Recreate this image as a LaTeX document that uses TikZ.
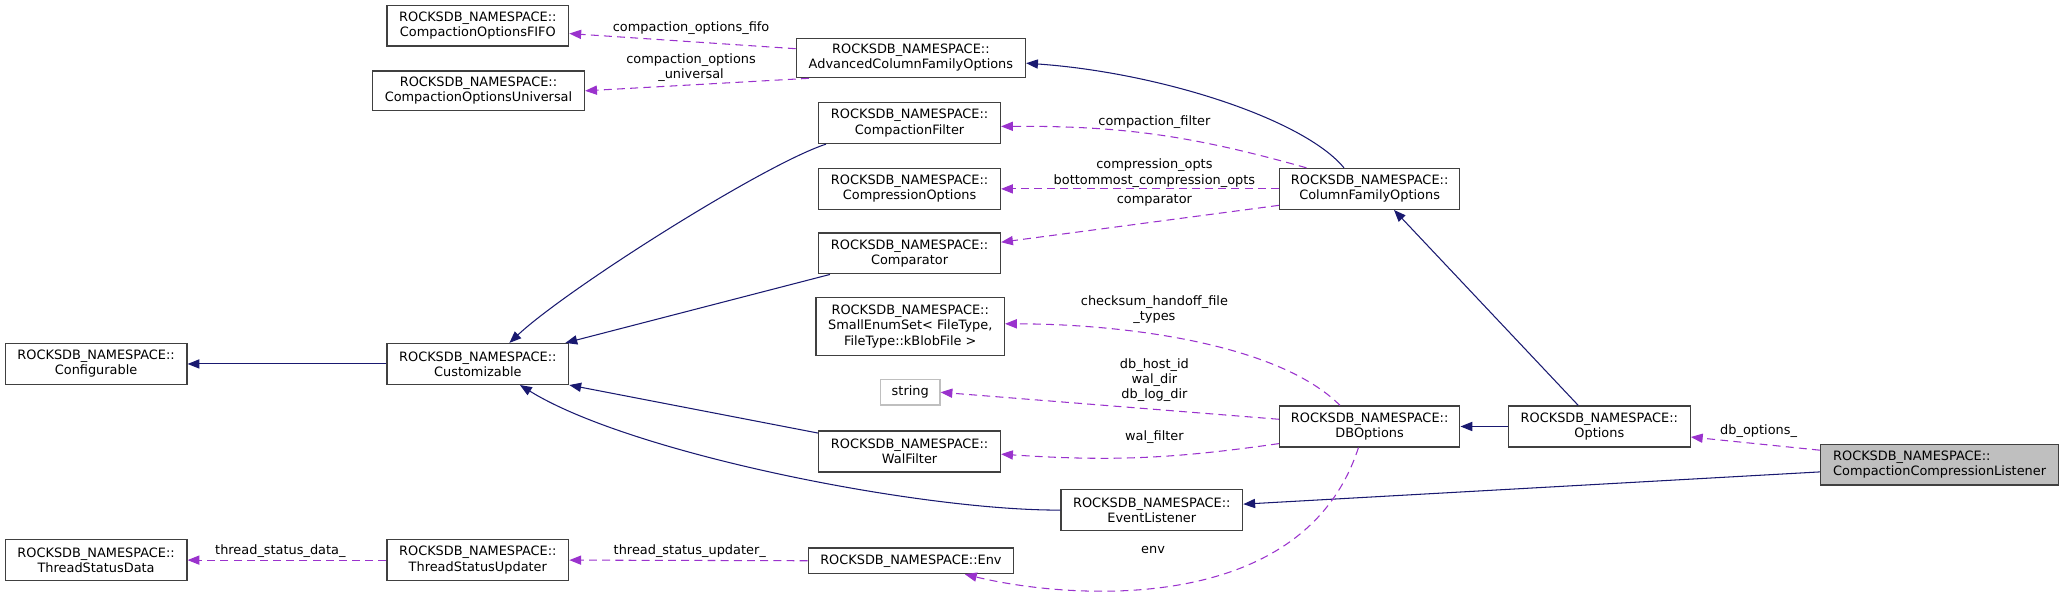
\documentclass[tikz,border=0pt]{standalone}
\usepackage{fontspec}
\setmainfont{DejaVu Sans}
\usetikzlibrary{arrows.meta}

\definecolor{heritage}{HTML}{191970}
\definecolor{membre}{HTML}{9A32CD}
\definecolor{bord}{HTML}{404040}

\begin{document}
\begin{tikzpicture}[
    x=1pt, y=-1pt,
    cls/.style={draw=bord, line width=1pt, fill=white, align=center, inner sep=0pt,
      minimum width=138pt, minimum height=31pt, font=\fontsize{9.8}{11.5}\selectfont},
    lbl/.style={align=center, inner sep=0pt, font=\fontsize{9.8}{11.5}\selectfont},
    inh/.style={draw=heritage, line width=0.8pt, -{Triangle[length=9pt,width=7pt]}},
    usage/.style={draw=membre, line width=0.8pt, dash pattern=on 6pt off 4pt,
      -{Triangle[length=9pt,width=7pt]}},
  ]
  \useasboundingbox (0,0) rectangle (1568,450);

  % classes
  \node[cls] (fifo) at (363,19.5) {ROCKSDB\_NAMESPACE::\\CompactionOptionsFIFO};
  \node[cls, minimum width=161pt, minimum height=30pt] (univ) at (363.5,69) {ROCKSDB\_NAMESPACE::\\CompactionOptionsUniversal};
  \node[cls, minimum width=174pt, minimum height=30pt] (advcfo) at (692,44) {ROCKSDB\_NAMESPACE::\\AdvancedColumnFamilyOptions};
  \node[cls] (cfilter) at (691,93.5) {ROCKSDB\_NAMESPACE::\\CompactionFilter};
  \node[cls] (cmpopts) at (691,143.5) {ROCKSDB\_NAMESPACE::\\CompressionOptions};
  \node[cls] (cmptr) at (691,192.5) {ROCKSDB\_NAMESPACE::\\Comparator};
  \node[cls, minimum width=137pt] (cfo) at (1040.5,143.5) {ROCKSDB\_NAMESPACE::\\ColumnFamilyOptions};
  \node[cls] (conf) at (73,276.5) {ROCKSDB\_NAMESPACE::\\Configurable};
  \node[cls] (cust) at (363,276.5) {ROCKSDB\_NAMESPACE::\\Customizable};
  \node[cls, minimum width=143pt, minimum height=44pt] (enumset) at (691.5,248) {ROCKSDB\_NAMESPACE::\\SmallEnumSet\textless{} FileType,\\FileType::kBlobFile \textgreater{}};
  \node[cls, draw=black!25, minimum width=45pt, minimum height=19.5pt] (str) at (691.5,298) {string};
  \node[cls] (walf) at (691,343) {ROCKSDB\_NAMESPACE::\\WalFilter};
  \node[cls] (evl) at (875,387.5) {ROCKSDB\_NAMESPACE::\\EventListener};
  \node[cls, minimum width=156pt, minimum height=19.5pt] (env) at (692,426) {ROCKSDB\_NAMESPACE::Env};
  \node[cls, minimum width=137pt] (dbo) at (1040.5,324) {ROCKSDB\_NAMESPACE::\\DBOptions};
  \node[cls] (opts) at (1215,324) {ROCKSDB\_NAMESPACE::\\Options};
  \node[cls, fill=black!25, minimum width=181pt, align=left] (listener) at (1473.5,353) {ROCKSDB\_NAMESPACE::\\CompactionCompressionListener};
  \node[cls] (tsd) at (73,425.5) {ROCKSDB\_NAMESPACE::\\ThreadStatusData};
  \node[cls] (tsu) at (363,425.5) {ROCKSDB\_NAMESPACE::\\ThreadStatusUpdater};

  % heritage
  \draw[inh] (cust.west) -- (conf.east);
  \draw[inh] ([xshift=6pt]cfilter.south west) .. controls (580,125) and (430,220) .. ([xshift=24pt]cust.north);
  \draw[inh] ([xshift=9pt]cmptr.south west) -- ([xshift=-3pt]cust.north east);
  \draw[inh] ([yshift=-2pt]walf.north west) -- (cust.south east);
  \draw[inh] (evl.west) .. controls (700,388) and (480,345) .. ([xshift=32pt]cust.south);
  \draw[inh] ([xshift=-19.5pt]cfo.north) .. controls (990,90) and (880,55) .. ([yshift=-4pt]advcfo.east);
  \draw[inh] ([xshift=-16pt]opts.north) -- ([xshift=18.5pt]cfo.south);
  \draw[inh] (opts.west) -- (dbo.east);
  \draw[inh] ([yshift=-5.5pt]listener.west) -- ([yshift=4.5pt]evl.east);

  % membres
  \draw[usage] ([yshift=7pt]advcfo.west) -- ([yshift=-6pt]fifo.east);
  \draw[usage] ([xshift=10pt]advcfo.south west) -- (univ.east);
  \draw[usage] ([xshift=21pt]cfo.north west) to[bend right=8] ([yshift=-2.5pt]cfilter.east);
  \draw[usage] (cfo.west) -- (cmpopts.east);
  \draw[usage] ([yshift=-12.5pt]cfo.west) -- ([yshift=8.5pt]cmptr.east);
  \draw[usage] ([xshift=-22.5pt]dbo.north) .. controls (970,260) and (850,246) .. ([yshift=2pt]enumset.east);
  \draw[usage] ([yshift=5.5pt]dbo.west) -- (str.east);
  \draw[usage] ([yshift=-13pt]dbo.west) to[bend left=6] ([yshift=-2pt]walf.east);
  \draw[usage] ([xshift=-8.5pt]dbo.south) .. controls (990,470) and (810,455) .. ([xshift=41pt]env.south);
  \draw[usage] ([yshift=11pt]listener.west) -- ([yshift=-8pt]opts.east);
  \draw[usage] (tsu.west) -- (tsd.east);
  \draw[usage] (env.west) -- (tsu.east);

  % etiquettes
  \node[lbl] (l1) at (525,21.5) {compaction\_options\_fifo};
  \node[lbl] (l2) at (525,51.5) {compaction\_options\\\_universal};
  \node[lbl] (l3) at (877,93) {compaction\_filter};
  \node[lbl] (l4) at (877,131.5) {compression\_opts\\bottommost\_compression\_opts};
  \node[lbl] (l5) at (877,152.5) {comparator};
  \node[lbl] (l6) at (877,235.5) {checksum\_handoff\_file\\\_types};
  \node[lbl] (l7) at (877,288.5) {db\_host\_id\\wal\_dir\\db\_log\_dir};
  \node[lbl] (l8) at (877,332) {wal\_filter};
  \node[lbl] (l9) at (876,418) {env};
  \node[lbl] (l10) at (1336,327.5) {db\_options\_};
  \node[lbl] (l11) at (213,419) {thread\_status\_data\_};
  \node[lbl] (l12) at (524,419) {thread\_status\_updater\_};
\end{tikzpicture}
\end{document}
